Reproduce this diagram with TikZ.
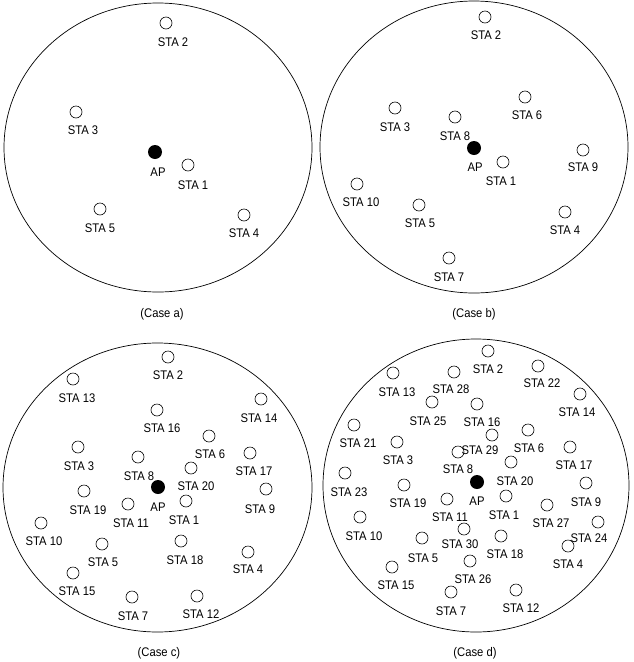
\documentclass[tikz,border=0pt]{standalone}
\usepackage{fontspec}
\setmainfont{Liberation Sans}[FakeStretch=0.9]
\tikzset{
  sta/.style={circle,draw,line width=0.6pt,minimum size=12pt,inner sep=0pt},
  ap/.style={circle,fill=black,minimum size=14pt,inner sep=0pt},
  lbl/.style={font=\fontsize{12.5}{13}\selectfont,inner sep=0pt},
  cell/.style={draw,line width=0.7pt}
}
\begin{document}
\begin{tikzpicture}[x=1pt,y=-1pt]
\useasboundingbox (0,0) rectangle (633,662);
% case a
\draw[cell] (158,147.5) ellipse (154pt and 144.5pt);
\node[ap] (aAP) at (155,152) {};
\node[lbl] (laAP) at (158,172) {AP};
\foreach \n/\x/\y/\lx/\ly in {1/188/165/193/185,2/166/23/173/42,3/76/112/83/130,
    4/244/215/244/233,5/100/209/100/228}{
  \node[sta] (a\n) at (\x,\y) {};
  \node[lbl] (la\n) at (\lx,\ly) {STA \n};
}
\node[lbl] (capa) at (162,314) {(Case a)};
% case b
\draw[cell] (474,147) ellipse (154pt and 146pt);
\node[ap] (bAP) at (474,148) {};
\node[lbl] (lbAP) at (475,167) {AP};
\foreach \n/\x/\y/\lx/\ly in {1/503/162/501/181,2/485/17/486/35,3/395/108/395/127,
    4/565/212/565/230,5/419/205/420/223,6/525/97/527/115,7/449/258/449/277,
    8/455/117/455/136,9/583/150/583/167,10/357/184/361/202}{
  \node[sta] (b\n) at (\x,\y) {};
  \node[lbl] (lb\n) at (\lx,\ly) {STA \n};
}
\node[lbl] (capb) at (474,314) {(Case b)};
% case c
\draw[cell] (157.5,487.5) ellipse (154.5pt and 144.5pt);
\node[ap] (cAP) at (158,487) {};
\node[lbl] (lcAP) at (158,507) {AP};
\foreach \n/\x/\y/\lx/\ly in {1/186/501/184/520,2/168/357/168/375,3/78/447/79/466,
    4/248/552/248/569,5/102/544/103/562,6/209/436/210/454,7/132/597/133/616,
    8/138/457/139/476,9/266/489/260/509,10/41/523/44/541,11/128/504/131/523,
    12/197/596/201/614,13/73/379/77/398,14/261/399/259/418,15/73/573/77/591,
    16/157/410/162/428,17/250/453/254/471,18/181/541/185/560,19/84/491/88/510,
    20/191/468/196/486}{
  \node[sta] (c\n) at (\x,\y) {};
  \node[lbl] (lc\n) at (\lx,\ly) {STA \n};
}
\node[lbl] (capc) at (159,653) {(Case c)};
% case d
\draw[cell] (476,485.5) ellipse (153pt and 146.5pt);
\node[ap] (dAP) at (477,482) {};
\node[lbl] (ldAP) at (477,501) {AP};
\foreach \n/\x/\y/\lx/\ly in {1/506/496/504/515,2/488/351/488/369,3/397/442/398/460,
    4/568/546/568/564,5/422/538/423/558,6/528/430/529/448,7/451/592/451/611,
    8/458/452/458/469,9/586/483/586/502,10/360/517/364/536,11/447/499/450/517,
    12/516/590/521/608,13/393/373/397/392,14/580/394/577/412,15/392/567/396/585,
    16/477/404/482/422,17/570/447/574/465,18/501/536/505/554,19/404/485/408/503,
    20/511/462/515/481,21/354/425/358/443,22/538/366/542/383,23/345/473/349/492,
    24/598/522/589/538,25/432/402/428/421,26/470/561/473/579,27/547/505/551/523,
    28/454/372/451/389,29/492/435/480/450,30/464/529/460/544}{
  \node[sta] (d\n) at (\x,\y) {};
  \node[lbl] (ld\n) at (\lx,\ly) {STA \n};
}
\node[lbl] (capd) at (475,653) {(Case d)};
\end{tikzpicture}
\end{document}
